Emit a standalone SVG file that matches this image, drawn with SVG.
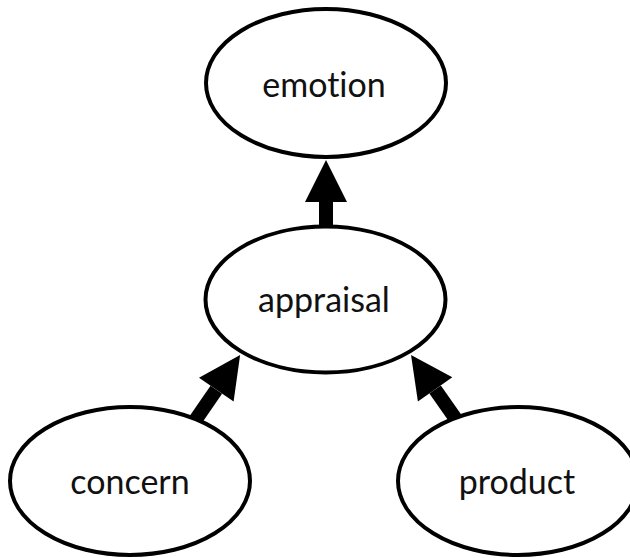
<svg xmlns="http://www.w3.org/2000/svg" width="630" height="558" viewBox="0 0 630 558">
<style>
.node{fill:#fff;stroke:#000;stroke-width:4}
.lbl{font-family:Lato,"Open Sans",sans-serif;font-size:34px;fill:#111;text-anchor:middle;font-variant-ligatures:none;font-feature-settings:"liga" 0}
.arr{stroke:#000;stroke-width:14;fill:none}
</style>
<defs>
<marker id="ah" markerUnits="userSpaceOnUse" markerWidth="44" markerHeight="44" refX="0" refY="21" orient="auto" viewBox="0 0 44 42" overflow="visible">
<path d="M0,0 L42,21 L0,42 Z" fill="#000"/>
</marker>
</defs>
<rect width="630" height="558" fill="#fff"/>
<g id="connectors">
<line class="arr" x1="326" y1="234" x2="326" y2="202" marker-end="url(#ah)"/>
<line class="arr" x1="192" y1="425" x2="216.3" y2="389.7" marker-end="url(#ah)"/>
<line class="arr" x1="460" y1="425" x2="435.1" y2="389.4" marker-end="url(#ah)"/>
</g>
<g id="emotion">
<ellipse class="node" cx="326" cy="83" rx="120" ry="74"/>
<text class="lbl" x="324" y="97">emotion</text>
</g>
<g id="appraisal">
<ellipse class="node" cx="325.5" cy="299.5" rx="120" ry="73"/>
<text class="lbl" x="324" y="312">appraisal</text>
</g>
<g id="concern">
<ellipse class="node" cx="130" cy="481" rx="120" ry="74"/>
<text class="lbl" x="130" y="494">concern</text>
</g>
<g id="product">
<ellipse class="node" cx="518" cy="481" rx="120" ry="74"/>
<text class="lbl" x="517" y="494">product</text>
</g>
</svg>
